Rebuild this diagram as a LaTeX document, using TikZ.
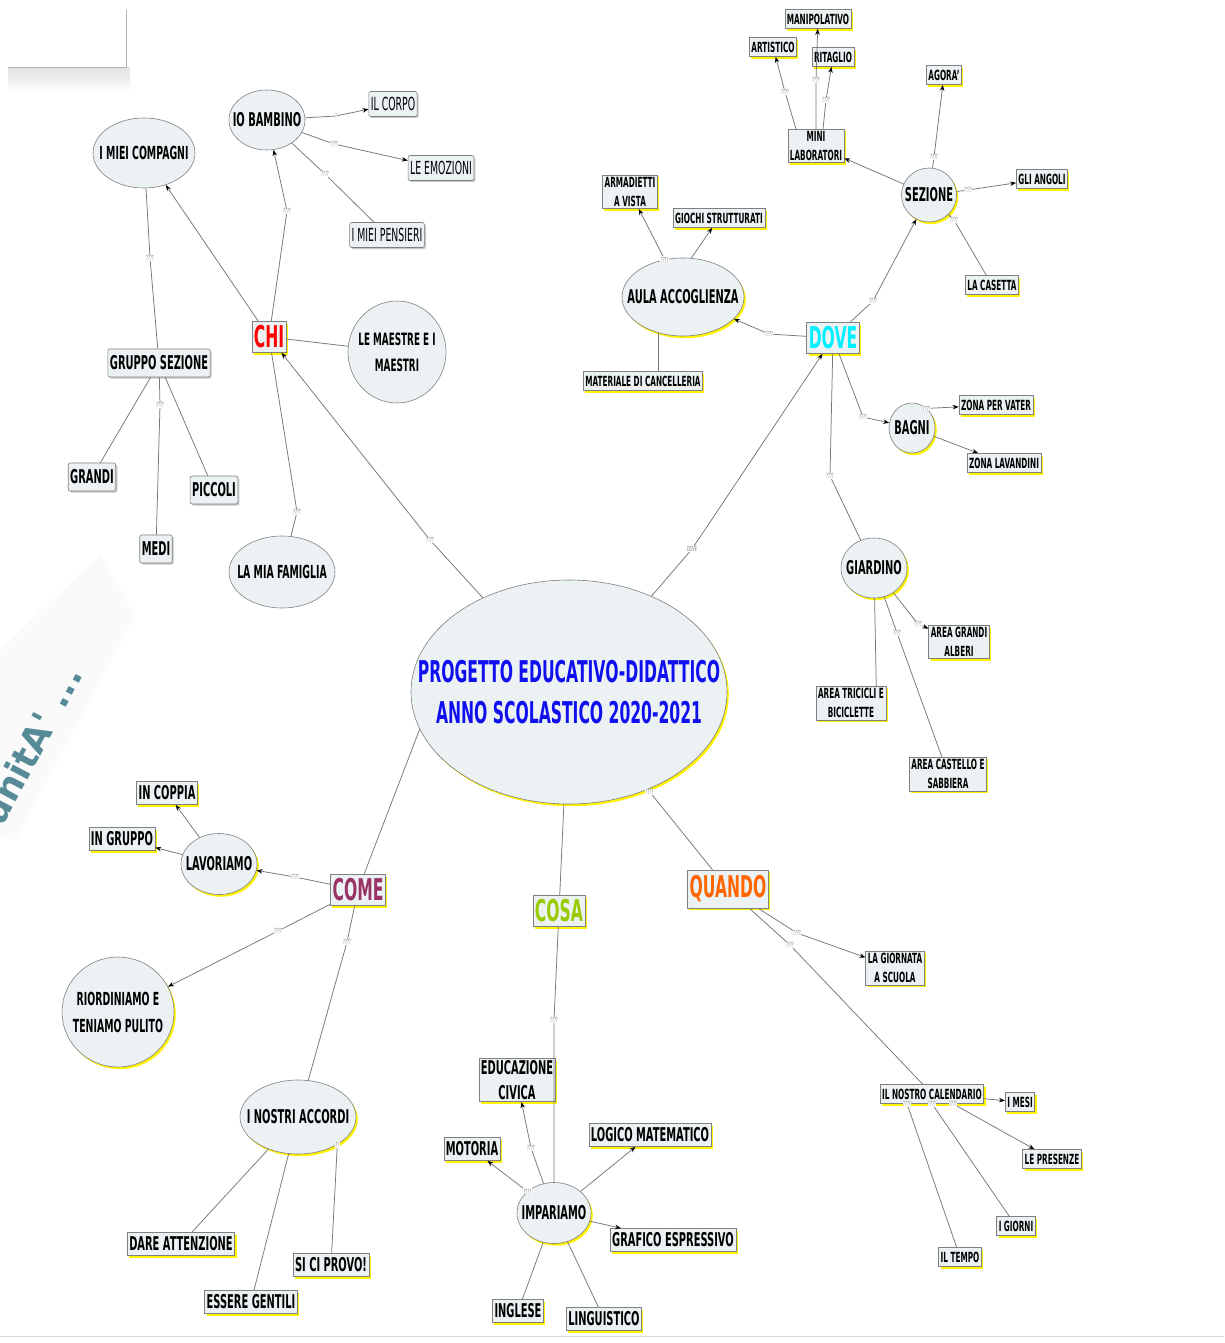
\documentclass[tikz,border=0pt]{standalone}
\usepackage{fontspec}
\setmainfont{DejaVu Sans}[FakeStretch=0.52]
\newfontfamily\wmfont{DejaVu Sans}
\usetikzlibrary{shapes.geometric,arrows.meta,shadows}
\definecolor{bfill}{HTML}{ECF2F4}
\definecolor{bord}{HTML}{808080}
\definecolor{lcol}{HTML}{767676}
\definecolor{shy}{HTML}{FFF200}
\definecolor{mainblue}{HTML}{1010EE}
\definecolor{chired}{HTML}{FF0000}
\definecolor{dovecyan}{HTML}{00F0FF}
\definecolor{comepurple}{HTML}{993366}
\definecolor{cosagreen}{HTML}{99CC00}
\definecolor{quandoorange}{HTML}{FF6600}
\definecolor{wmteal}{HTML}{2F6F7F}
\begin{document}
\begin{tikzpicture}[x=1pt,y=-1pt,
  box/.style={rectangle, draw=bord, fill=bfill, line width=0.6pt, inner xsep=2pt, inner ysep=2pt, align=center},
  ysh/.style={drop shadow={shadow xshift=1.8pt, shadow yshift=-2.2pt, fill=shy, opacity=1}},
  gsh/.style={drop shadow={shadow xshift=1.5pt, shadow yshift=-1.5pt, fill=gray!45, opacity=1}},
  sbox/.style={box, ysh, font=\fontsize{14}{19}\selectfont\bfseries, minimum height=19},
  mbox/.style={box, ysh, font=\fontsize{19}{25}\selectfont\bfseries, minimum height=23},
  gbox/.style={box, gsh, rounded corners=2pt, font=\fontsize{19}{25}\selectfont\bfseries, minimum height=28},
  tbox/.style={box, gsh, rounded corners=2pt, font=\fontsize{18}{22}\selectfont, minimum height=25},
  cbox/.style={box, ysh, font=\fontsize{30}{36}\selectfont\bfseries, minimum height=31, inner ysep=1pt},
  ell/.style={ellipse, draw=bord, fill=bfill, line width=0.6pt, inner sep=0pt},
  yell/.style={ell, ysh},
  et/.style={font=\fontsize{19}{26}\selectfont\bfseries, align=center},
  con/.style={draw=lcol, line width=0.75pt},
  arr/.style={con, -{Stealth[length=6pt,width=4.5pt,color=black]}},
  lbl/.style={font=\fontsize{7}{7}\selectfont, text=gray, fill=white, inner sep=0.4pt}
]
\useasboundingbox (0,0) rectangle (1224,1343);
\fill[white] (0,0) rectangle (1224,1343);

% decorations: top-left box and watermark
\shade[top color=gray!22, bottom color=white] (8,68) rectangle (130,92);
\fill[white] (8,10) rectangle (126,68);
\draw[gray!60, line width=1pt] (126,10) -- (126,68) -- (8,68);
\fill[gray!4] (0,835) -- (0,650) -- (100,555) -- (135,615) -- (15,840) -- cycle;
\node[rotate=62, anchor=east, text=wmteal, opacity=0.8, font=\wmfont\fontsize{36}{36}\selectfont\bfseries, inner sep=0pt] (wm) at (72,668) {unitA' ...};
\draw[gray!30, line width=1pt] (0,1336) -- (1224,1336);

% ---------- nodes ----------
\node[ell, ysh, minimum width=316, minimum height=224,
  label={[font=\fontsize{30}{41}\selectfont\bfseries, text=mainblue, align=center]center:{PROGETTO EDUCATIVO-DIDATTICO\\ANNO SCOLASTICO 2020-2021}}] (main) at (569,692) {};

% CHI group
\node[cbox, text=chired] (chi) at (269,337) {CHI};
\node[ell, minimum width=76, minimum height=60, label={[et]center:IO BAMBINO}] (iob) at (267,120) {};
\node[tbox] (corpo) at (393,104) {IL CORPO};
\node[tbox] (emoz) at (441,168) {LE EMOZIONI};
\node[tbox] (pensieri) at (387,235) {I MIEI PENSIERI};
\node[ell, minimum width=102, minimum height=70, label={[et, font=\fontsize{18}{24}\selectfont\bfseries]center:I MIEI COMPAGNI}] (compagni) at (144,153) {};
\node[ell, minimum width=98, minimum height=102, label={[et, font=\fontsize{17}{26}\selectfont\bfseries]center:{LE MAESTRE E I\\MAESTRI}}] (maestre) at (397,352) {};
\node[ell, minimum width=106, minimum height=72, label={[et, font=\fontsize{18}{24}\selectfont\bfseries]center:LA MIA FAMIGLIA}] (famiglia) at (282,572) {};
\node[gbox] (gs) at (159,363) {GRUPPO SEZIONE};
\node[gbox] (grandi) at (92,477) {GRANDI};
\node[gbox] (medi) at (156,549) {MEDI};
\node[gbox] (piccoli) at (214,490) {PICCOLI};

% DOVE group
\node[cbox, text=dovecyan] (dove) at (833,338) {DOVE};
\node[yell, minimum width=55, minimum height=54, label={[et]center:SEZIONE}] (sezione) at (929,195) {};
\node[sbox] (minilab) at (816,146) {MINI\\LABORATORI};
\node[sbox] (manip) at (818,19) {MANIPOLATIVO};
\node[sbox] (artis) at (773,47) {ARTISTICO};
\node[sbox] (ritag) at (833,57) {RITAGLIO};
\node[sbox] (agora) at (944,75) {AGORA'};
\node[sbox] (angoli) at (1042,179) {GLI ANGOLI};
\node[sbox] (casetta) at (992,285) {LA CASETTA};
\node[yell, minimum width=122, minimum height=78, label={[et]center:AULA ACCOGLIENZA}] (aula) at (683,297) {};
\node[sbox] (armad) at (630,192) {ARMADIETTI\\A VISTA};
\node[sbox] (giochi) at (719,218) {GIOCHI STRUTTURATI};
\node[sbox] (mater) at (643,381) {MATERIALE DI CANCELLERIA};
\node[yell, minimum width=46, minimum height=50, label={[et]center:BAGNI}] (bagni) at (912,428) {};
\node[sbox] (vater) at (996,405) {ZONA PER VATER};
\node[sbox] (lavand) at (1004,463) {ZONA LAVANDINI};
\node[yell, minimum width=66, minimum height=60, label={[et]center:GIARDINO}] (giardino) at (874,568) {};
\node[sbox] (alberi) at (959,642) {AREA GRANDI\\ALBERI};
\node[sbox] (tricicli) at (851,703) {AREA TRICICLI E\\BICICLETTE};
\node[sbox] (castello) at (948,774) {AREA CASTELLO E\\SABBIERA};

% COME group
\node[cbox, text=comepurple] (come) at (358,890) {COME};
\node[yell, minimum width=76, minimum height=61, label={[et]center:LAVORIAMO}] (lavoriamo) at (219,864) {};
\node[mbox] (coppia) at (167,793) {IN COPPIA};
\node[mbox] (gruppo) at (122,839) {IN GRUPPO};
\node[yell, minimum width=112, minimum height=110, label={[et, font=\fontsize{18}{27}\selectfont\bfseries]center:{RIORDINIAMO E\\TENIAMO PULITO}}] (riord) at (118,1012) {};
\node[yell, minimum width=116, minimum height=74, label={[et]center:I NOSTRI ACCORDI}] (accordi) at (298,1117) {};
\node[mbox] (dare) at (181,1244) {DARE ATTENZIONE};
\node[mbox] (siciprovo) at (331,1265) {SI CI PROVO!};
\node[mbox] (essere) at (251,1302) {ESSERE GENTILI};

% COSA group
\node[cbox, text=cosagreen] (cosa) at (559,911) {COSA};
\node[yell, minimum width=74, minimum height=61, label={[et]center:IMPARIAMO}] (impar) at (554,1213) {};
\node[mbox] (educ) at (517,1080) {EDUCAZIONE\\CIVICA};
\node[mbox] (motoria) at (472,1149) {MOTORIA};
\node[mbox] (logico) at (650,1135) {LOGICO MATEMATICO};
\node[mbox] (grafico) at (673,1240) {GRAFICO ESPRESSIVO};
\node[mbox] (inglese) at (518,1311) {INGLESE};
\node[mbox] (lingu) at (604,1319) {LINGUISTICO};

% QUANDO group
\node[cbox, text=quandoorange, minimum height=38] (quando) at (728,889) {QUANDO};
\node[sbox] (giornata) at (895,968) {LA GIORNATA\\A SCUOLA};
\node[sbox] (cal) at (932,1094) {IL NOSTRO CALENDARIO};
\node[sbox] (mesi) at (1020,1102) {I MESI};
\node[sbox] (presenze) at (1052,1159) {LE PRESENZE};
\node[sbox] (giorni) at (1016,1226) {I GIORNI};
\node[sbox] (tempo) at (960,1257) {IL TEMPO};

% ---------- connectors ----------
% CHI
\draw[arr] (main) -- (430,540) node[lbl] (n1) {????} -- (chi);
\draw[arr] (chi) -- (compagni);
\draw[arr] (chi) -- (287,211) node[lbl] (n2) {????} -- (iob);
\draw[arr] (iob) -- (336,116) node[lbl] (n3) {?} -- (corpo);
\draw[arr] (iob) -- (334,144) node[lbl] (n4) {????} -- (emoz);
\draw[con] (iob) -- (325,174) node[lbl] (n5) {????} -- (pensieri);
\draw[con] (compagni) -- (150,258) node[lbl] (n6) {????} -- (gs);
\draw[con] (chi) -- (maestre);
\draw[con] (chi) -- (297,512) node[lbl] (n7) {????} -- (famiglia);
\draw[con] (gs) -- (grandi);
\draw[con] (gs) -- (160,405) node[lbl] (n8) {????} -- (medi);
\draw[con] (gs) -- (piccoli);

% DOVE
\draw[arr] (main) -- (692,549) node[lbl] (n9) {DOVE} -- (dove);
\draw[arr] (dove) -- (873,301) node[lbl] (n10) {????} -- (sezione);
\draw[arr] (sezione) -- (minilab);
\draw[arr] (sezione) -- (934,157) node[lbl] (n11) {????} -- (agora);
\draw[arr] (sezione) -- (968,190) node[lbl] (n12) {????} -- (angoli);
\draw[con] (sezione) -- (954,220) node[lbl] (n13) {????} -- (casetta);
\draw[arr] ([xshift=-20pt]minilab.north) -- (785,92) node[lbl] (n14) {????} -- (artis);
\draw[arr] (minilab.north) -- (816,80) node[lbl] (n15) {????} -- (manip);
\draw[arr] ([xshift=7pt]minilab.north) -- (826,100) node[lbl] (n16) {????} -- (ritag);
\draw[arr] (dove) -- (769,334) node[lbl] (n17) {????} -- (aula);
\draw[arr] (aula.116) node[lbl] (n18) {????} -- (armad);
\draw[arr] (aula.78) -- (giochi);
\draw[con] (aula.235) -- (mater.north -| aula.235);
\draw[arr] (dove) -- (863,417) node[lbl] (n19) {????} -- (bagni);
\draw[arr] (bagni.53) node[lbl] (n20) {????} -- (vater);
\draw[arr] (bagni) -- (lavand);
\draw[con] (dove) -- (830,476) node[lbl] (n21) {????} -- (giardino);
\draw[arr] (giardino) -- (918,624) node[lbl] (n22) {????} -- (alberi);
\draw[con] (giardino) -- ([xshift=-10pt]tricicli.north east);
\draw[con] (giardino) -- (897,633) node[lbl] (n23) {????} -- (castello);

% COME
\draw[con] (main.194) -- (come);
\draw[con] (come) -- (347,942) node[lbl] (n24) {????} -- (accordi);
\draw[arr] (come) -- (295,877) node[lbl] (n25) {????} -- (lavoriamo);
\draw[arr] (come) -- (278,931) node[lbl] (n26) {????} -- (riord);
\draw[arr] (lavoriamo) -- (coppia);
\draw[arr] (lavoriamo) -- (gruppo);
\draw[con] (accordi) -- (dare);
\draw[con] (accordi) -- (essere);
\draw[con] (accordi.325) node[lbl] (n27) {??} -- (siciprovo);

% COSA
\draw[con] (main) -- (cosa);
\draw[con] (cosa) -- (554,1020) node[lbl] (n28) {????} -- (impar);
\draw[arr] (impar) -- (531,1148) node[lbl] (n29) {????} -- (educ);
\draw[arr] (impar.141) node[lbl] (n30) {????} -- (motoria);
\draw[arr] (impar) -- (logico);
\draw[arr] (impar) -- (grafico);
\draw[con] (impar) -- (inglese);
\draw[con] (impar) -- (lingu);

% QUANDO
\draw[con] (main) -- node[lbl, pos=0.03] (n31) {????} (quando);
\draw[arr] (quando) -- (797,933) node[lbl] (n32) {????} -- (giornata);
\draw[con] (quando) -- (790,945) node[lbl] (n33) {????} -- (cal);
\draw[arr] (cal) -- (mesi);
\draw[arr] ([xshift=21pt]cal.south) node[lbl] (n34) {????} -- (presenze);
\draw[con] (cal.south) node[lbl] (n35) {????} -- (giorni);
\draw[con] ([xshift=-25pt]cal.south) node[lbl] (n36) {????} -- (tempo);
\end{tikzpicture}
\end{document}
